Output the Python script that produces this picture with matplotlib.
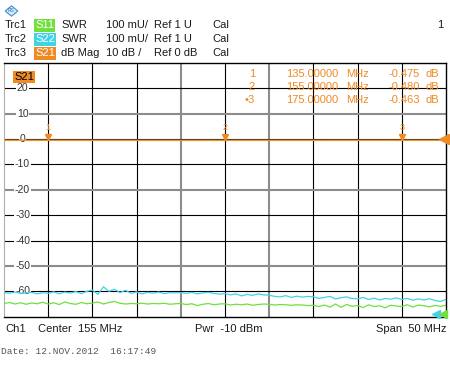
import numpy as np
import matplotlib.pyplot as plt
from matplotlib.patches import RegularPolygon

plt.rcParams['font.family'] = ['Liberation Sans', 'DejaVu Sans']

# sweep: center 155 MHz, span 50 MHz
f_start, f_stop = 130.0, 180.0
db_ticks = [20, 10, 0, -10, -20, -30, -40, -50, -60]
gray_db = [10, -20, -50]
gray_freq = [150, 160]

# S21 trace (dB Mag) and markers
s21_freq = [130, 135, 145, 155, 165, 175, 180]
s21_db = [-0.47, -0.475, -0.48, -0.48, -0.47, -0.463, -0.46]
mk_num = ['1', '2', '3']
mk_freq = [135.0, 155.0, 175.0]
mk_db = [-0.475, -0.480, -0.463]

# S22 / S11 SWR traces (81 points across the span)
s22_swr = [1.095, 1.093, 1.097, 1.092, 1.094, 1.096, 1.090, 1.095,
           1.092, 1.098, 1.090, 1.097, 1.093, 1.099, 1.091, 1.100,
           1.105, 1.088, 1.118, 1.100, 1.108, 1.095, 1.104, 1.092,
           1.098, 1.090, 1.096, 1.093, 1.097, 1.091, 1.095, 1.094,
           1.095, 1.092, 1.096, 1.090, 1.094, 1.096, 1.092, 1.089,
           1.091, 1.086, 1.090, 1.082, 1.088, 1.084, 1.090, 1.086,
           1.085, 1.080, 1.078, 1.083, 1.076, 1.081, 1.077, 1.080,
           1.078, 1.072, 1.076, 1.080, 1.070, 1.075, 1.078, 1.072,
           1.070, 1.076, 1.068, 1.073, 1.066, 1.072, 1.069, 1.074,
           1.068, 1.072, 1.065, 1.070, 1.066, 1.071, 1.064, 1.060, 1.068]
s11_swr = [1.052, 1.056, 1.050, 1.055, 1.049, 1.054, 1.051, 1.057,
           1.050, 1.055, 1.048, 1.058, 1.052, 1.049, 1.056, 1.051,
           1.054, 1.058, 1.050, 1.056, 1.060, 1.053, 1.050, 1.052,
           1.051, 1.053, 1.050, 1.052, 1.051, 1.053, 1.049, 1.051,
           1.052, 1.048, 1.051, 1.044, 1.049, 1.052, 1.047, 1.050,
           1.051, 1.046, 1.049, 1.047, 1.050, 1.045, 1.048, 1.050,
           1.049, 1.046, 1.048, 1.047, 1.045, 1.047, 1.046, 1.044,
           1.045, 1.040, 1.046, 1.038, 1.050, 1.037, 1.048, 1.041,
           1.044, 1.036, 1.047, 1.040, 1.043, 1.035, 1.045, 1.042,
           1.040, 1.047, 1.038, 1.046, 1.043, 1.039, 1.044, 1.041, 1.045]
swr_freq = np.linspace(f_start, f_stop, len(s22_swr))

c_s11 = '#6fe03c'
c_s22 = '#3fd3e8'
c_s21 = '#f08a24'
c_s21_line = '#e8962e'
c_txt = '#1a1a1a'
fs = 8

fig = plt.figure(figsize=(4.5, 3.7), dpi=100)
fig.patch.set_facecolor('white')
ax = fig.add_axes([4 / 450, 1 - 316.7 / 370, 442 / 450, 253.7 / 370])
ax.set_xlim(f_start, f_stop)
ax.set_ylim(-70, 30)
ax.set_xticks([])
ax.set_yticks([])
for s in ['top', 'right', 'bottom']:
    ax.spines[s].set_color('black')
    ax.spines[s].set_linewidth(1.0)
ax.spines['left'].set_color('#b0b0b0')

# grid
for f in np.arange(f_start + 5, f_stop, 5):
    col = '#8c8c8c' if f in gray_freq else 'black'
    lw = 1.5 if f in gray_freq else 0.8
    ax.axvline(f, color=col, lw=lw, zorder=1)
for d in range(-60, 30, 10):
    col = '#8c8c8c' if d in gray_db else 'black'
    lw = 1.5 if d in gray_db else 0.8
    ax.axhline(d, color=col, lw=lw, zorder=1)

for d in db_ticks:
    ax.text(0.042, d, str(d), transform=ax.get_yaxis_transform(),
            ha='center', va='center', fontsize=7.5, color='#333333', zorder=3,
            bbox=dict(boxstyle='square,pad=0.1', fc='white', ec='none'))

# SWR traces on their own scale: 100 mU/div, ref 1 U at bottom
ax2 = ax.twinx()
ax2.set_ylim(1.0, 2.0)
ax2.set_yticks([])
ax2.axis('off')
ax2.plot(swr_freq, s22_swr, color=c_s22, lw=0.9, zorder=4)
ax2.plot(swr_freq, s11_swr, color=c_s11, lw=0.9, zorder=4)
ax2.plot([f_stop - 1.1], [1.012], marker='<', ms=6, color=c_s22, clip_on=False)
ax2.plot([f_stop - 0.3], [1.012], marker='<', ms=6, color=c_s11, clip_on=False)

# S21 trace and markers
ax2.set_zorder(ax.get_zorder() + 1)
ax2.plot(s21_freq, [v / 100 + 1.7 for v in s21_db], color=c_s21_line, lw=1.1)
for n, f, v in zip(mk_num, mk_freq, mk_db):
    y = v / 100 + 1.7
    ax2.plot([f], [y + 0.012], marker='v', ms=5, color=c_s21, clip_on=False)
    ax2.text(f, y + 0.05, n, ha='center', va='center', fontsize=6.5, color=c_s21)
ax2.plot([f_stop - 0.2], [1.7], marker='<', ms=7, color=c_s21, clip_on=False)

ax.text(0.023, 0.965, 'S21', transform=ax.transAxes, fontsize=fs, color='black',
        va='top', ha='left', zorder=5,
        bbox=dict(boxstyle='square,pad=0.1', fc=c_s21, ec='none'))

# marker table
rows_y = [74, 87, 100]
mk_labels = ['1', '2', '\u20223']
for lab, f, v, yp in zip(mk_labels, mk_freq, mk_db, rows_y):
    yy = 1 - yp / 370
    fig.text(255 / 450, yy, lab, ha='right', va='center', fontsize=fs, color=c_s21, zorder=6)
    fig.text(338 / 450, yy, f'{f:.5f}', ha='right', va='center', fontsize=fs, color=c_s21, zorder=6)
    fig.text(346 / 450, yy, 'MHz', ha='left', va='center', fontsize=fs, color=c_s21, zorder=6)
    fig.text(420 / 450, yy, f'{v:.3f}', ha='right', va='center', fontsize=fs, color=c_s21, zorder=6)
    fig.text(426 / 450, yy, 'dB', ha='left', va='center', fontsize=fs, color=c_s21, zorder=6)

# header
trc_rows = [('Trc1', 'S11', c_s11, 'SWR', '100 mU/', 'Ref 1 U'),
            ('Trc2', 'S22', c_s22, 'SWR', '100 mU/', 'Ref 1 U'),
            ('Trc3', 'S21', c_s21, 'dB Mag', '10 dB /', 'Ref 0 dB')]
for i, (trc, par, col, fmt, scale, ref) in enumerate(trc_rows):
    yy = 1 - (25.5 + i * 14) / 370
    fig.text(5 / 450, yy, trc, va='center', fontsize=fs, color=c_txt)
    fig.text(35 / 450, yy, par, va='center', fontsize=fs, color='white',
             bbox=dict(boxstyle='square,pad=0.1', fc=col, ec='none'))
    fig.text(61 / 450, yy, fmt, va='center', fontsize=fs, color=c_txt)
    fig.text(106 / 450, yy, scale, va='center', fontsize=fs, color=c_txt)
    fig.text(154 / 450, yy, ref, va='center', fontsize=fs, color=c_txt)
    fig.text(212 / 450, yy, 'Cal', va='center', fontsize=fs, color=c_txt)
fig.text(443 / 450, 1 - 25.5 / 370, '1', ha='right', va='center', fontsize=fs, color=c_txt)

# R&S logo
fig.patches.append(RegularPolygon((11.5 / 450, 1 - 11 / 370), 4, radius=0.014,
                                  transform=fig.transFigure, fc='#d7ecf8', ec='#3a8fd0', lw=0.8))
fig.text(11.5 / 450, 1 - 11 / 370, 'RS', ha='center', va='center', fontsize=3.5, color='#2a6fb0')

# footer
yb = 1 - 329 / 370
fig.text(5 / 450, yb, 'Ch1', va='center', fontsize=fs, color=c_txt)
fig.text(38 / 450, yb, 'Center  155 MHz', va='center', fontsize=fs, color=c_txt)
fig.text(195 / 450, yb, 'Pwr  -10 dBm', va='center', fontsize=fs, color=c_txt)
fig.text(446 / 450, yb, 'Span  50 MHz', ha='right', va='center', fontsize=fs, color=c_txt)
fig.text(1 / 450, 1 - 352 / 370, 'Date: 12.NOV.2012  16:17:49', va='center',
         fontsize=6.8, color='#555555', family=['Liberation Mono', 'DejaVu Sans Mono'])

fig.savefig('out.png', dpi=100, facecolor='white')
